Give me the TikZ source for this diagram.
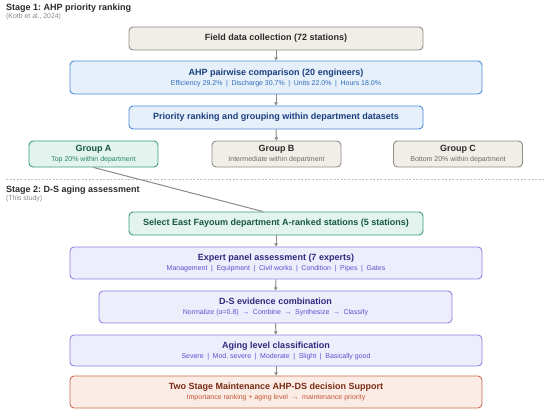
\documentclass[tikz,border=0pt]{standalone}
\usepackage{fontspec}
\setmainfont{Liberation Sans}
\frenchspacing
\usetikzlibrary{positioning,arrows.meta}
\definecolor{grayfill}{HTML}{F1EEE8}
\definecolor{grayedge}{HTML}{8E8C87}
\definecolor{graytxt}{HTML}{2B2B2B}
\definecolor{graysub}{HTML}{6B6B6B}
\definecolor{bluefill}{HTML}{E6F0FB}
\definecolor{blueedge}{HTML}{4D8AD6}
\definecolor{bluetxt}{HTML}{1B3F7E}
\definecolor{bluesub}{HTML}{2F6DB8}
\definecolor{greenfill}{HTML}{E3F4EE}
\definecolor{greenedge}{HTML}{3D9C7E}
\definecolor{greentxt}{HTML}{15573F}
\definecolor{greensub}{HTML}{2A8566}
\definecolor{purplefill}{HTML}{EDEDFC}
\definecolor{purpleedge}{HTML}{8C84E3}
\definecolor{purpletxt}{HTML}{2E2A7D}
\definecolor{purplesub}{HTML}{5B52CF}
\definecolor{orangefill}{HTML}{FAECE5}
\definecolor{orangeedge}{HTML}{C96A4C}
\definecolor{orangetxt}{HTML}{7A2A12}
\definecolor{orangesub}{HTML}{C45532}
\definecolor{arrgray}{HTML}{8A8A85}
\newcommand{\subtxt}[2]{{\color{#1}\fontsize{7}{8}\selectfont\mdseries #2}}
\newcommand{\sepbar}{\hspace{3.6pt}|\hspace{3.6pt}}
\newcommand{\separr}{\hspace{3.6pt}→\hspace{3.6pt}}

\begin{document}
\begin{tikzpicture}[x=1pt,y=-1pt]
		\tikzstyle{every node}+=[inner sep=0pt]
		\tikzstyle{box}=[draw, rounded corners=4pt, line width=0.9pt, align=center, font=\fontsize{9}{10}\selectfont\bfseries]
		\tikzstyle{gbox}=[box, draw=grayedge, fill=grayfill, text=graytxt]
		\tikzstyle{bbox}=[box, draw=blueedge, fill=bluefill, text=bluetxt]
		\tikzstyle{abox}=[box, draw=greenedge, fill=greenfill, text=greentxt]
		\tikzstyle{pbox}=[box, draw=purpleedge, fill=purplefill, text=purpletxt]
		\tikzstyle{obox}=[box, draw=orangeedge, fill=orangefill, text=orangetxt]
		\tikzstyle{stage}=[anchor=west, text=graytxt, font=\fontsize{9}{10}\selectfont\bfseries]
		\tikzstyle{cite}=[anchor=west, text=graysub!80, font=\fontsize{6.9}{8}\selectfont]
		\tikzstyle{arr}=[draw=arrgray, line width=1pt, -{Triangle[length=3.2pt,width=3.6pt]}]
		\useasboundingbox (0,0) rectangle (550,413);
		\node[stage] (st1) at (6,8) {Stage 1: AHP priority ranking};
		\node[cite] (st1ref) at (6,17) {(Kotb et al., 2024)};
		\node[gbox, minimum width=294pt, minimum height=23pt] (field) at (276,38.5) {Field data collection (72 stations)};
		\node[bbox, minimum width=412pt, minimum height=33pt] (ahp) at (276,77.5) {AHP pairwise comparison (20 engineers)\\\subtxt{bluesub}{Efficiency 29.2\%\sepbar Discharge 30.7\%\sepbar Units 22.0\%\sepbar Hours 18.0\%}};
		\node[bbox, minimum width=294pt, minimum height=23pt] (prio) at (276,117.5) {Priority ranking and grouping within department datasets};
		\node[abox, minimum width=129pt, minimum height=26pt] (grpA) at (93.5,154) {Group A\\\subtxt{greensub}{Top 20\% within department}};
		\node[gbox, minimum width=129pt, minimum height=26pt] (grpB) at (276.5,154) {Group B\\\subtxt{graysub}{Intermediate within department}};
		\node[gbox, minimum width=129pt, minimum height=26pt] (grpC) at (458,154) {Group C\\\subtxt{graysub}{Bottom 20\% within department}};
		\draw [black!25, line width=0.8pt, dash pattern=on 2pt off 1.6pt] (6,179) -- (545,179);
		\node[stage] (st2) at (6,190) {Stage 2: D-S aging assessment};
		\node[cite] (st2ref) at (6,199) {(This study)};
		\node[abox, minimum width=294pt, minimum height=23pt] (select) at (276,223.5) {Select East Fayoum department A-ranked stations (5 stations)};
		\node[pbox, minimum width=412pt, minimum height=32pt] (expert) at (276,263) {Expert panel assessment (7 experts)\\\subtxt{purplesub}{Management\sepbar Equipment\sepbar Civil works\sepbar Condition\sepbar Pipes\sepbar Gates}};
		\node[pbox, minimum width=353pt, minimum height=32pt] (ds) at (275.5,307) {D-S evidence combination\\\subtxt{purplesub}{Normalize (α=0.8)\separr Combine\separr Synthesize\separr Classify}};
		\node[pbox, minimum width=412pt, minimum height=31pt] (aging) at (276,350.5) {Aging level classification\\\subtxt{purplesub}{Severe\sepbar Mod. severe\sepbar Moderate\sepbar Slight\sepbar Basically good}};
		\node[obox, minimum width=412pt, minimum height=32pt] (maint) at (276,392) {Two Stage Maintenance AHP-DS decision Support\\\subtxt{orangesub}{Importance ranking + aging level\separr maintenance priority}};
		\draw [arr] (field) -- (ahp);
		\draw [arr] (ahp) -- (prio);
		\draw [arr] (prio) -- (grpB);
		\draw [draw=arrgray, line width=1pt] (grpA.south) -- ([xshift=-13pt]select.north);
		\draw [arr] (select) -- (expert);
		\draw [arr] (expert) -- (ds);
		\draw [arr] (ds) -- (aging);
		\draw [arr] (aging) -- (maint);
\end{tikzpicture}
\end{document}
